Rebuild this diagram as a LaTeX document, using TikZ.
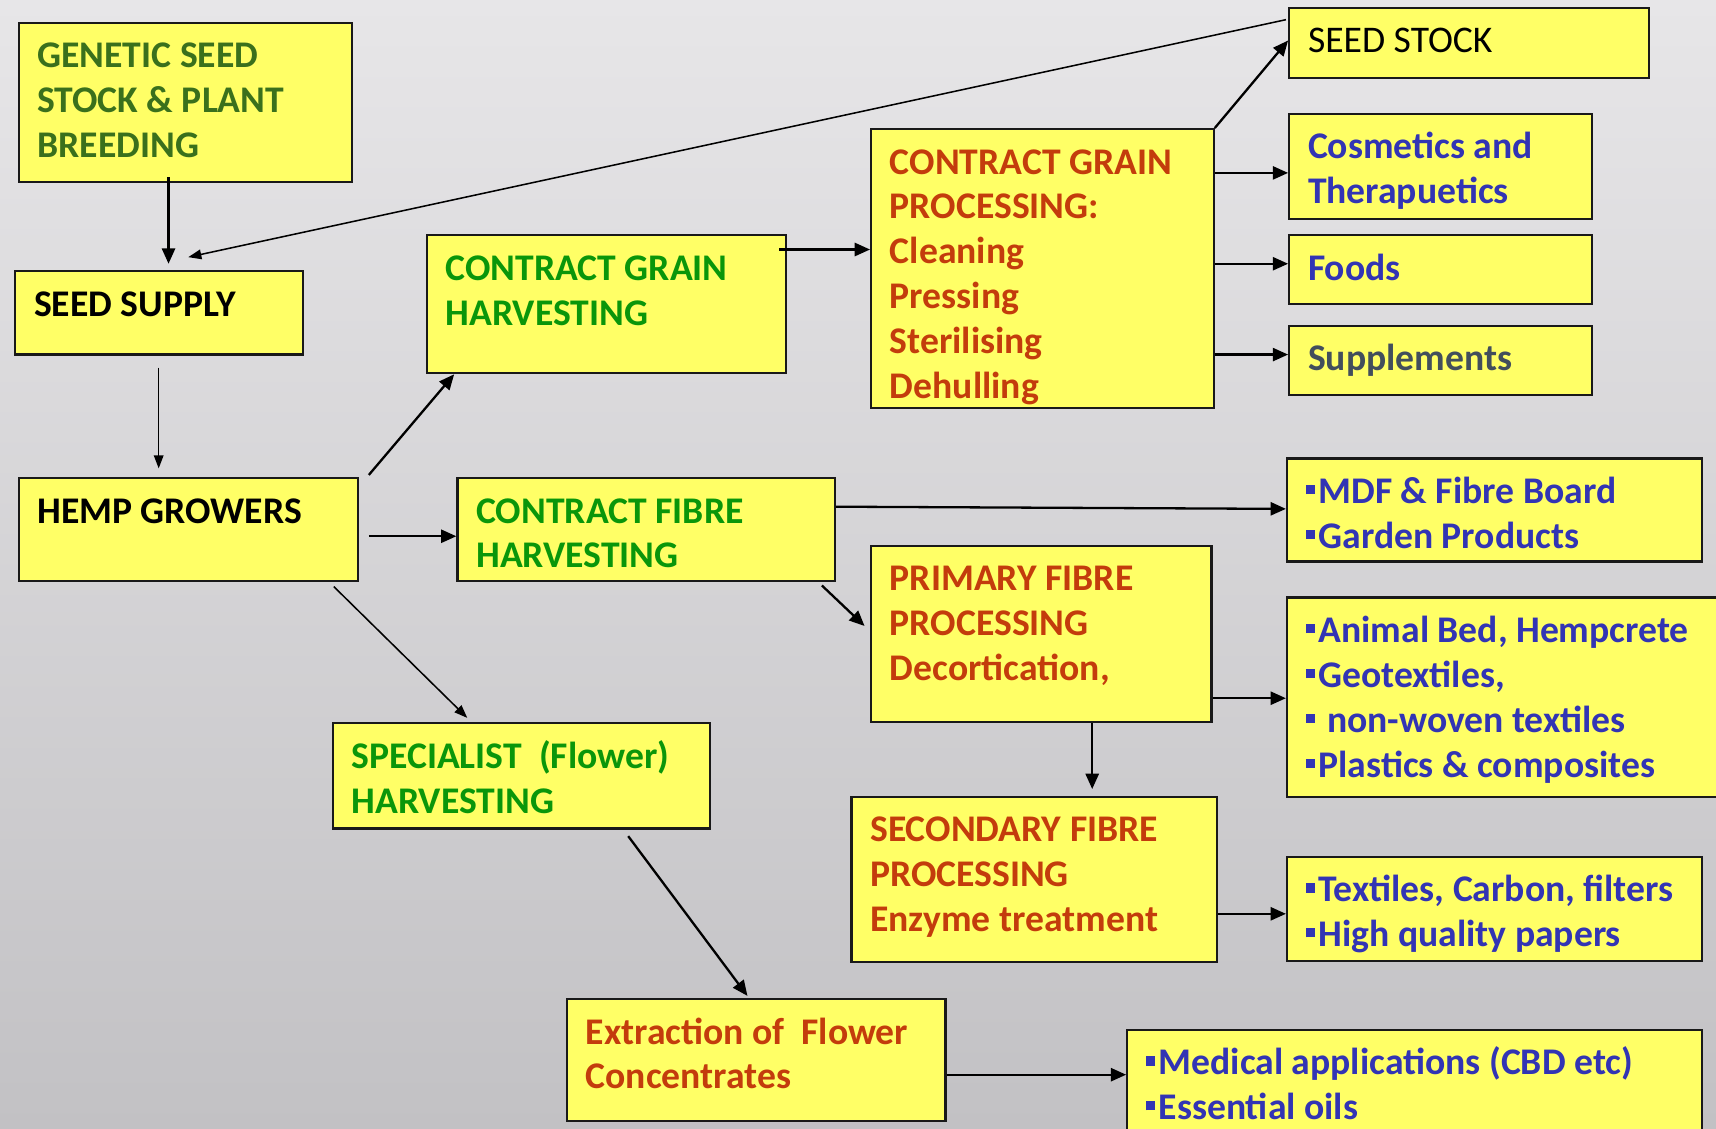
\documentclass[tikz,border=0pt]{standalone}
\usepackage{fontspec}
\setmainfont{Carlito}
\usetikzlibrary{arrows.meta,calc}
\definecolor{bgtop}{RGB}{231,230,232}
\definecolor{bgbot}{RGB}{194,193,196}
\definecolor{boxfill}{RGB}{255,255,102}
\definecolor{boxline}{RGB}{25,25,25}
\definecolor{dkgreen}{RGB}{58,112,28}
\definecolor{hgreen}{RGB}{10,150,10}
\definecolor{procred}{RGB}{195,60,12}
\definecolor{prodblue}{RGB}{50,52,180}
\definecolor{suppgray}{RGB}{66,78,92}
\newcommand\bx[3]{\parbox[c][\dimexpr #2pt/2\relax][t]{\dimexpr #1pt/2\relax}{\raggedright\leftskip=8.6pt\rule{0pt}{20.5pt}#3}}
\newcommand\bul{\rule[4.2pt]{4.2pt}{4.2pt}\hspace{1.6pt}}
\begin{document}
\begin{tikzpicture}[x=0.5pt,y=-0.5pt,
  box/.style={draw=boxline,line width=1pt,fill=boxfill,inner sep=0pt,anchor=north west,
    font=\fontsize{17.2}{20.5}\selectfont\bfseries},
  arr/.style={line width=1.05pt,-{Triangle[length=7pt,width=6pt]}},
  tarr/.style={line width=0.7pt,-{Triangle[length=6pt,width=4.4pt]}}]
\useasboundingbox (0,0) rectangle (1568,1031);
\clip (0,0) rectangle (1568,1031);
\shade[top color=bgtop,bottom color=bgbot] (0,0) rectangle (1568,1031);

\node[box,text=dkgreen] (gen) at (16,20) {\bx{305}{145}{GENETIC SEED\\STOCK \& PLANT\\BREEDING}};
\node[box,text=black] (supply) at (13,247) {\bx{263}{76}{SEED SUPPLY}};
\node[box,text=black] (hemp) at (16,436) {\bx{310}{94}{HEMP GROWERS}};
\node[box,text=hgreen] (cgh) at (389,214) {\bx{328}{126}{CONTRACT GRAIN\\HARVESTING}};
\node[box,text=hgreen] (cfh) at (417,436) {\bx{345}{94}{CONTRACT FIBRE\\HARVESTING}};
\node[box,text=hgreen] (spec) at (303,660) {\bx{345}{96}{SPECIALIST\ \ (Flower)\\HARVESTING}};
\node[box,text=procred] (cgp) at (795,117) {\bx{313}{255}{CONTRACT GRAIN\\PROCESSING:\\Cleaning\\Pressing\\Sterilising\\Dehulling}};
\node[box,text=black,font=\fontsize{17.2}{20.5}\selectfont] (stock) at (1177,6) {\bx{329}{64}{SEED STOCK}};
\node[box,text=prodblue] (cos) at (1177,103) {\bx{277}{96}{Cosmetics and\\Therapuetics}};
\node[box,text=prodblue] (foods) at (1177,214) {\bx{277}{63}{Foods}};
\node[box,text=suppgray] (supp) at (1177,297) {\bx{277}{63}{Supplements}};
\node[box,text=prodblue] (mdf) at (1175,418) {\bx{379}{94}{\bul MDF \& Fibre Board\\\bul Garden Products}};
\node[box,text=procred] (pfp) at (795,498) {\bx{311}{161}{PRIMARY FIBRE\\PROCESSING\\Decortication,}};
\node[box,text=prodblue] (anim) at (1175,545) {\bx{420}{182}{\bul Animal Bed, Hempcrete\\\bul Geotextiles,\\\bul\ non-woven textiles\\\bul Plastics \& composites}};
\node[box,text=procred] (sfp) at (777,727) {\bx{334}{151}{SECONDARY FIBRE\\PROCESSING\\Enzyme treatment}};
\node[box,text=prodblue] (tex) at (1175,782) {\bx{379}{95}{\bul Textiles, Carbon, filters\\\bul High quality papers}};
\node[box,text=procred] (ext) at (517,912) {\bx{346}{111}{Extraction of\ \ Flower\\Concentrates}};
\node[box,text=prodblue] (med) at (1029,940) {\bx{525}{110}{\bul Medical applications (CBD etc)\\\bul Essential oils}};

\draw[arr] ([shift={(138,-5)}]gen.south west) -- ([shift={(141,-6)}]supply.north west);
\draw[tarr] ([shift={(-2,12)}]stock.north west) -- ([shift={(159,-12)}]supply.north west);
\draw[tarr] ([shift={(132,11)}]supply.south west) -- ([shift={(129,-8)}]hemp.north west);
\draw[arr] ([shift={(9,-2)}]hemp.north east) -- ([shift={(26,0)}]cgh.south west);
\draw[arr] ([shift={(9,54)}]hemp.north east) -- ([shift={(0,54)}]cfh.north west);
\draw[tarr] ([shift={(-23,4)}]hemp.south east) -- ([shift={(124,-4)}]spec.north west);
\draw[arr] ([shift={(-7,14)}]cgh.north east) -- ([shift={(0,111)}]cgp.north west);
\draw[arr] (cgp.north east) -- ([shift={(0,31)}]stock.north west);
\draw[arr] ([shift={(0,41)}]cgp.north east) -- ([shift={(0,55)}]cos.north west);
\draw[arr] ([shift={(0,124)}]cgp.north east) -- ([shift={(0,27)}]foods.north west);
\draw[arr] ([shift={(0,207)}]cgp.north east) -- ([shift={(0,27)}]supp.north west);
\draw[arr] ([shift={(0,27)}]cfh.north east) -- ([shift={(0,47)}]mdf.north west);
\draw[arr] ([shift={(-13,3)}]cfh.south east) -- ([shift={(-5,74)}]pfp.north west);
\draw[arr] ([shift={(0,140)}]pfp.north east) -- ([shift={(0,93)}]anim.north west);
\draw[arr] ([shift={(203,0)}]pfp.south west) -- ([shift={(221,-6)}]sfp.north west);
\draw[arr] ([shift={(0,108)}]sfp.north east) -- ([shift={(0,53)}]tex.north west);
\draw[arr] ([shift={(271,6)}]spec.south west) -- ([shift={(166,-2)}]ext.north west);
\draw[arr] ([shift={(0,70)}]ext.north east) -- ([shift={(0,42)}]med.north west);
\end{tikzpicture}
\end{document}
